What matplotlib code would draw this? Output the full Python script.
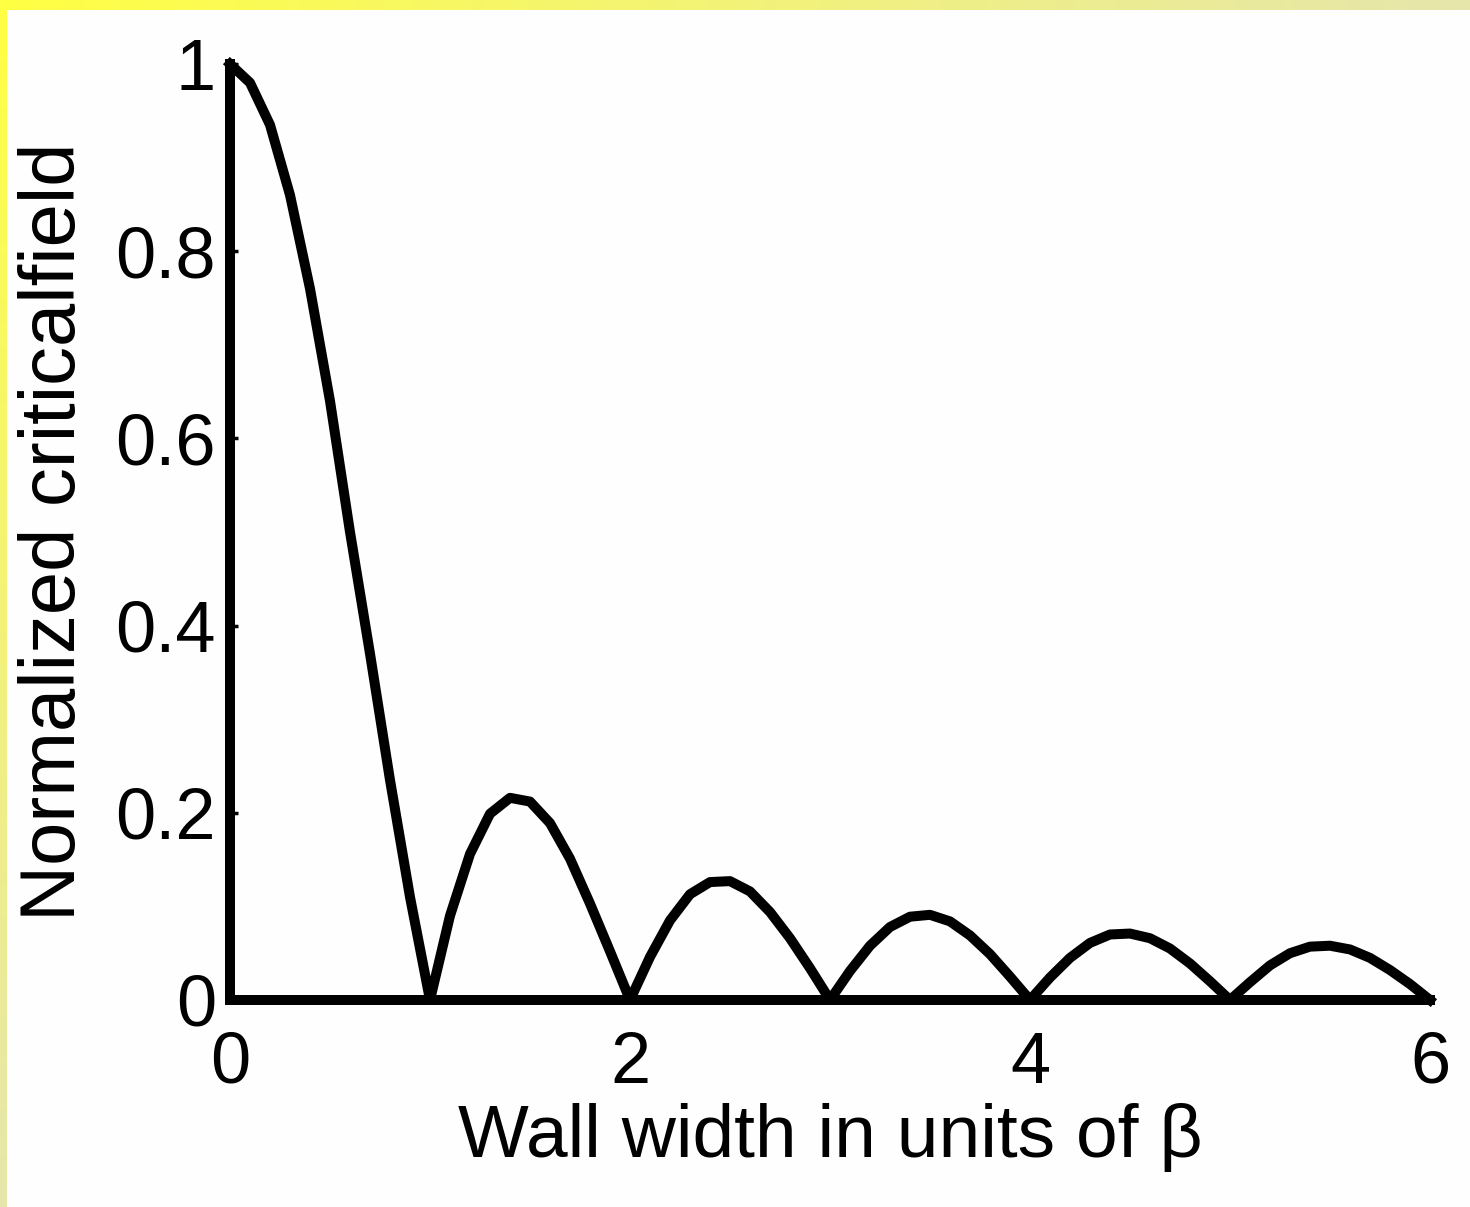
import numpy as np
import matplotlib.pyplot as plt
from matplotlib.colors import LinearSegmentedColormap

# wall width (units of beta) and normalized critical field
width = [0.0, 0.1, 0.2, 0.3, 0.4, 0.5, 0.6, 0.7, 0.8, 0.9,
         1.0, 1.1, 1.2, 1.3, 1.4, 1.5, 1.6, 1.7, 1.8, 1.9,
         2.0, 2.1, 2.2, 2.3, 2.4, 2.5, 2.6, 2.7, 2.8, 2.9,
         3.0, 3.1, 3.2, 3.3, 3.4, 3.5, 3.6, 3.7, 3.8, 3.9,
         4.0, 4.1, 4.2, 4.3, 4.4, 4.5, 4.6, 4.7, 4.8, 4.9,
         5.0, 5.1, 5.2, 5.3, 5.4, 5.5, 5.6, 5.7, 5.8, 5.9, 6.0]
field = [1.0, 0.98, 0.935, 0.86, 0.76, 0.64, 0.50, 0.37, 0.235, 0.11,
         0.0, 0.09, 0.156, 0.199, 0.216, 0.212, 0.189, 0.151, 0.103, 0.052,
         0.0, 0.046, 0.085, 0.113, 0.126, 0.127, 0.116, 0.094, 0.066, 0.034,
         0.0, 0.031, 0.058, 0.078, 0.089, 0.091, 0.084, 0.069, 0.049, 0.025,
         0.0, 0.024, 0.045, 0.061, 0.07, 0.071, 0.066, 0.055, 0.039, 0.02,
         0.0, 0.019, 0.037, 0.05, 0.057, 0.058, 0.054, 0.045, 0.032, 0.017, 0.0]

xticks = [0, 2, 4, 6]
yticks = [0, 0.2, 0.4, 0.6, 0.8, 1]
yticklabels = ['0', '0.2', '0.4', '0.6', '0.8', '1']

plt.rcParams['font.family'] = ['Liberation Sans', 'DejaVu Sans']

W, H = 1470, 1207
fig = plt.figure(figsize=(W / 100, H / 100), dpi=100)
fig.patch.set_facecolor('#fefefe')

# yellow gradient strips along top and left edge
cmap = LinearSegmentedColormap.from_list('yel', ['#ffff44', '#e6e6ac'])
top = fig.add_axes([0, 1 - 10 / H, 1, 10 / H])
top.imshow(np.linspace(0, 1, 256)[None, :], aspect='auto', cmap=cmap)
top.axis('off')
left = fig.add_axes([0, 0, 6 / W, 1 - 10 / H])
left.imshow(np.linspace(0, 1, 256)[:, None], aspect='auto', cmap=cmap)
left.axis('off')

ax = fig.add_axes([230 / W, 1 - 1000 / H, 1200 / W, 936 / H])
ax.set_facecolor('none')
ax.plot(width, field, color='black', lw=7.2, clip_on=False,
        solid_capstyle='projecting', solid_joinstyle='round')
ax.set_xlim(0, 6)
ax.set_ylim(0, 1)

for s in ['top', 'right']:
    ax.spines[s].set_visible(False)
ax.spines['left'].set_linewidth(7.2)
ax.spines['bottom'].set_linewidth(7.2)
ax.spines['left'].set_capstyle('projecting')
ax.spines['bottom'].set_capstyle('projecting')

ax.set_xticks(xticks)
ax.set_xticklabels([str(t) for t in xticks])
ax.set_yticks(yticks)
ax.set_yticklabels(yticklabels)
ax.tick_params(axis='x', length=0, pad=22, labelsize=52)
ax.tick_params(axis='y', direction='in', length=6, width=2.5, pad=10, labelsize=52)
ax.yaxis.get_ticklines()[0].set_visible(False)

ax.set_xlabel('Wall width in units of β', fontsize=54, labelpad=4)
ax.set_ylabel('Normalized criticalfield', fontsize=56, labelpad=18)

fig.savefig('out.png', dpi=100)
